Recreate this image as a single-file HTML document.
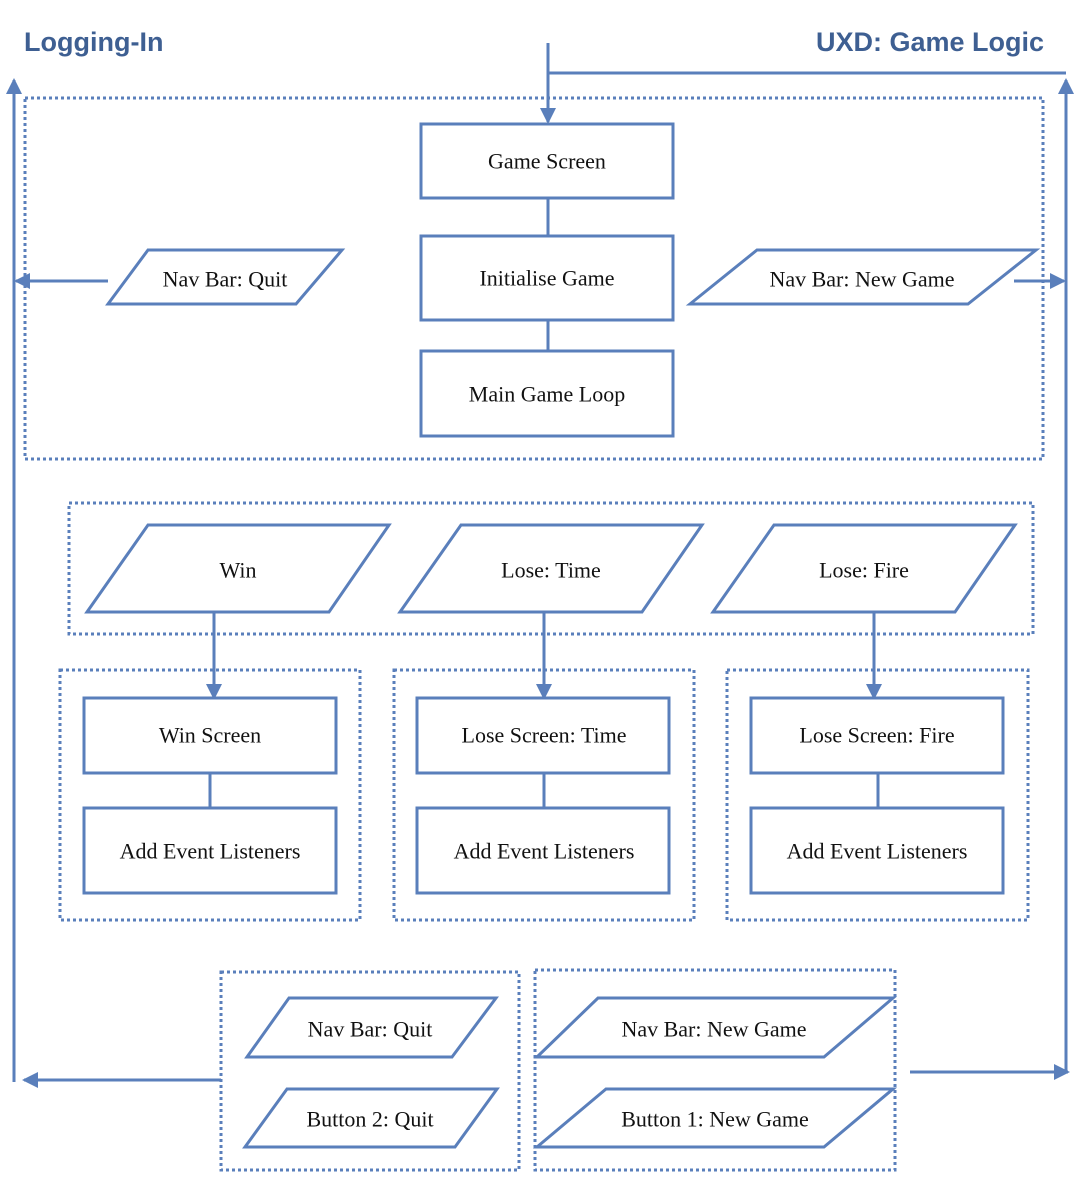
<!DOCTYPE html>
<html><head><meta charset="utf-8"><style>
html,body{margin:0;padding:0;background:#fff;}
svg{display:block}
text{font-family:"Liberation Serif",serif;font-size:22px;fill:#111;text-anchor:middle;dominant-baseline:central}
.t{font-family:"Liberation Sans",sans-serif;font-weight:bold;font-size:27px;fill:#3E5F92;text-anchor:start}
</style></head><body>
<svg width="1084" height="1200" viewBox="0 0 1084 1200">
<defs>
<marker id="b" markerWidth="16" markerHeight="16" refX="14" refY="8" orient="auto" markerUnits="userSpaceOnUse"><path d="M0,0 L16,8 L0,16z" fill="#5A7FBB"/></marker>
</defs>
<text class="t" x="24" y="42">Logging-In</text>
<text class="t" x="816" y="42">UXD: Game Logic</text>
<g stroke="#5A7FBB" fill="none" stroke-width="3">
<line x1="14" y1="1082" x2="14" y2="80" marker-end="url(#b)"/>
<line x1="1066" y1="1072" x2="1066" y2="80" marker-end="url(#b)"/>
<line x1="548" y1="73" x2="1066" y2="73"/>
<line x1="548" y1="43" x2="548" y2="122" marker-end="url(#b)"/>
<line x1="108" y1="281" x2="16" y2="281" marker-end="url(#b)"/>
<line x1="1014" y1="281" x2="1064" y2="281" marker-end="url(#b)"/>
<line x1="221" y1="1080" x2="24" y2="1080" marker-end="url(#b)"/>
<line x1="910" y1="1072" x2="1068" y2="1072" marker-end="url(#b)"/>
<line x1="214" y1="612" x2="214" y2="698" marker-end="url(#b)"/>
<line x1="544" y1="612" x2="544" y2="698" marker-end="url(#b)"/>
<line x1="874" y1="612" x2="874" y2="698" marker-end="url(#b)"/>
<line x1="548" y1="198" x2="548" y2="236"/>
<line x1="548" y1="320" x2="548" y2="351"/>
<line x1="210" y1="773" x2="210" y2="808"/>
<line x1="544" y1="773" x2="544" y2="808"/>
<line x1="878" y1="773" x2="878" y2="808"/>
</g>
<g stroke="#5A7FBB" fill="none" stroke-width="3" stroke-dasharray="3 3">
<rect x="25" y="98" width="1018" height="361"/>
<rect x="69" y="503" width="964" height="131"/>
<rect x="60" y="670" width="300" height="250"/>
<rect x="394" y="670" width="300" height="250"/>
<rect x="727" y="670" width="301" height="250"/>
<rect x="221" y="972" width="298" height="198"/>
<rect x="535" y="970" width="360" height="200"/>
</g>
<g stroke="#5A7FBB" fill="#fff" stroke-width="3">
<rect x="421" y="124" width="252" height="74"/>
<rect x="421" y="236" width="252" height="84"/>
<rect x="421" y="351" width="252" height="85"/>
<rect x="84" y="698" width="252" height="75"/>
<rect x="84" y="808" width="252" height="85"/>
<rect x="417" y="698" width="252" height="75"/>
<rect x="417" y="808" width="252" height="85"/>
<rect x="751" y="698" width="252" height="75"/>
<rect x="751" y="808" width="252" height="85"/>
<polygon points="108,304 148,250 342,250 296,304"/>
<polygon points="690,304 757,250 1036,250 968,304"/>
<polygon points="87,612 148,525 389,525 329,612"/>
<polygon points="400,612 461,525 702,525 642,612"/>
<polygon points="713,612 774,525 1015,525 955,612"/>
<polygon points="247,1057 289,998 496,998 452,1057"/>
<polygon points="245,1147 287,1089 497,1089 455,1147"/>
<polygon points="537,1057 598,998 893,998 824,1057"/>
<polygon points="537,1147 606,1089 893,1089 824,1147"/>
</g>
<text x="547" y="161">Game Screen</text>
<text x="547" y="278">Initialise Game</text>
<text x="547" y="394">Main Game Loop</text>
<text x="225" y="279">Nav Bar: Quit</text>
<text x="862" y="279">Nav Bar: New Game</text>
<text x="238" y="570">Win</text>
<text x="551" y="570">Lose: Time</text>
<text x="864" y="570">Lose: Fire</text>
<text x="210" y="735">Win Screen</text>
<text x="210" y="851">Add Event Listeners</text>
<text x="544" y="735">Lose Screen: Time</text>
<text x="544" y="851">Add Event Listeners</text>
<text x="877" y="735">Lose Screen: Fire</text>
<text x="877" y="851">Add Event Listeners</text>
<text x="370" y="1029">Nav Bar: Quit</text>
<text x="370" y="1119">Button 2: Quit</text>
<text x="714" y="1029">Nav Bar: New Game</text>
<text x="715" y="1119">Button 1: New Game</text>
</svg>
</body></html>
